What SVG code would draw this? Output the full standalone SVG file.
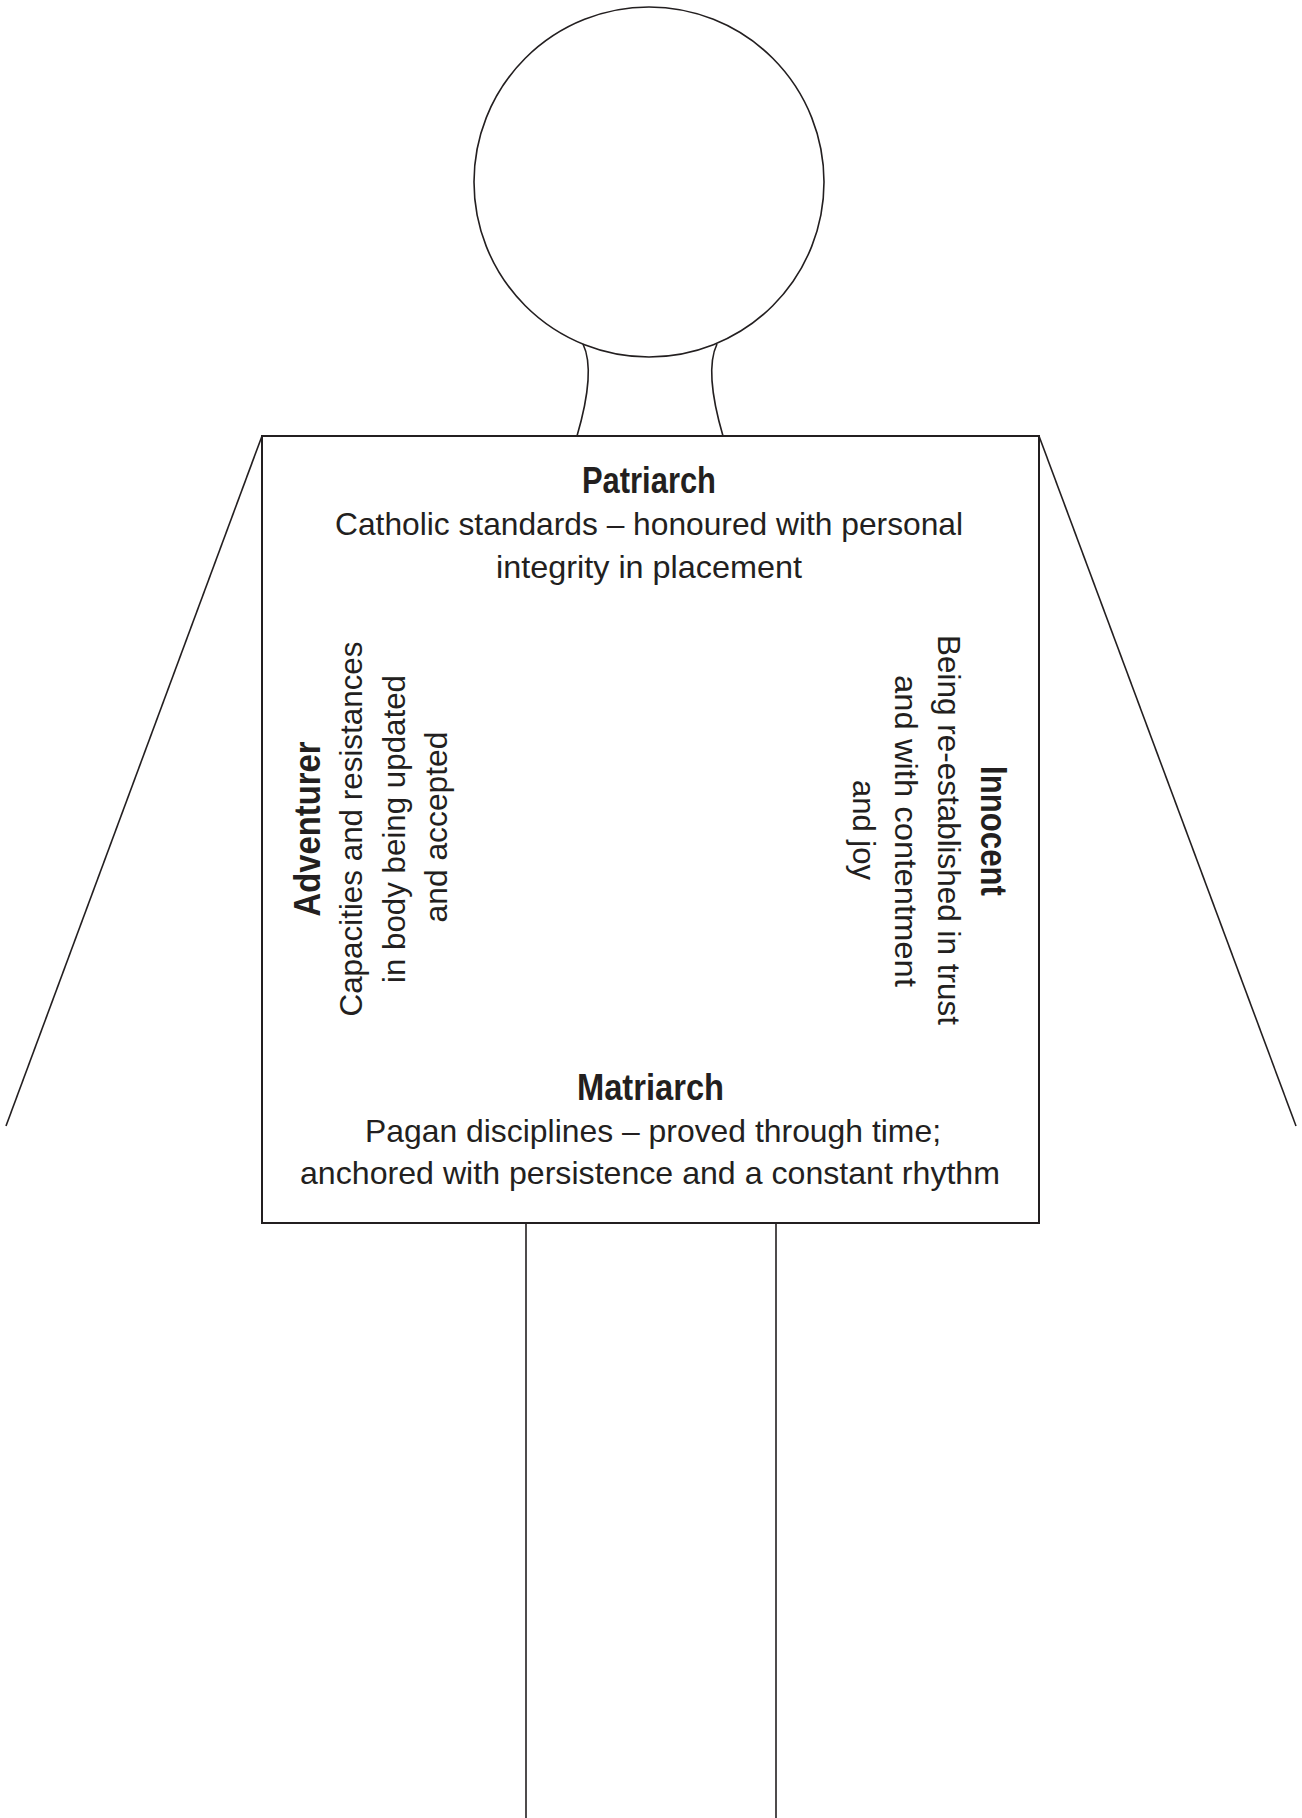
<svg xmlns="http://www.w3.org/2000/svg" width="1302" height="1818" viewBox="0 0 1302 1818">
<style>
.ln{fill:none;stroke:#231f20;stroke-width:1.6}
.box{fill:#fff;stroke:#231f20;stroke-width:2}
.t{font-family:"Liberation Sans",Arial,sans-serif;font-size:31.5px;fill:#231f20;text-anchor:middle}
.b{font-weight:bold;font-size:36px}
</style>
<rect width="1302" height="1818" fill="#fff"/>
<g id="figure">
<circle id="head" class="ln" cx="649" cy="182" r="175"/>
<path id="neck-left" class="ln" d="M583,344 Q596,371 577,436"/>
<path id="neck-right" class="ln" d="M717,344 Q704,371 723,436"/>
<line id="arm-left" class="ln" x1="262" y1="436" x2="6" y2="1126"/>
<line id="arm-right" class="ln" x1="1039" y1="436" x2="1296" y2="1126"/>
<line id="leg-left" class="ln" x1="526" y1="1223" x2="526" y2="1818"/>
<line id="leg-right" class="ln" x1="776" y1="1223" x2="776" y2="1818"/>
<rect id="body" class="box" x="262" y="436" width="777" height="787"/>
</g>
<g id="patriarch">
<text class="t b" x="649" y="493" textLength="134" lengthAdjust="spacingAndGlyphs">Patriarch</text>
<text class="t" x="649" y="535" textLength="628" lengthAdjust="spacingAndGlyphs">Catholic standards – honoured with personal</text>
<text class="t" x="649" y="578" textLength="306" lengthAdjust="spacingAndGlyphs">integrity in placement</text>
</g>
<g id="matriarch">
<text class="t b" x="650.5" y="1100" textLength="147" lengthAdjust="spacingAndGlyphs">Matriarch</text>
<text class="t" x="653" y="1142" textLength="576" lengthAdjust="spacingAndGlyphs">Pagan disciplines – proved through time;</text>
<text class="t" x="650" y="1184" textLength="700" lengthAdjust="spacingAndGlyphs">anchored with persistence and a constant rhythm</text>
</g>
<g id="adventurer" transform="rotate(-90)">
<text class="t b" x="-829" y="320" textLength="175" lengthAdjust="spacingAndGlyphs">Adventurer</text>
<text class="t" x="-829" y="362" textLength="375" lengthAdjust="spacingAndGlyphs">Capacities and resistances</text>
<text class="t" x="-829" y="405" textLength="308" lengthAdjust="spacingAndGlyphs">in body being updated</text>
<text class="t" x="-827" y="447" textLength="191" lengthAdjust="spacingAndGlyphs">and accepted</text>
</g>
<g id="innocent" transform="rotate(90)">
<text class="t b" x="831" y="-981" textLength="130" lengthAdjust="spacingAndGlyphs">Innocent</text>
<text class="t" x="830" y="-938" textLength="390" lengthAdjust="spacingAndGlyphs">Being re-established in trust</text>
<text class="t" x="831" y="-895" textLength="312" lengthAdjust="spacingAndGlyphs">and with contentment</text>
<text class="t" x="830" y="-853" textLength="100" lengthAdjust="spacingAndGlyphs">and joy</text>
</g>
<g id="connectors"></g>
</svg>
